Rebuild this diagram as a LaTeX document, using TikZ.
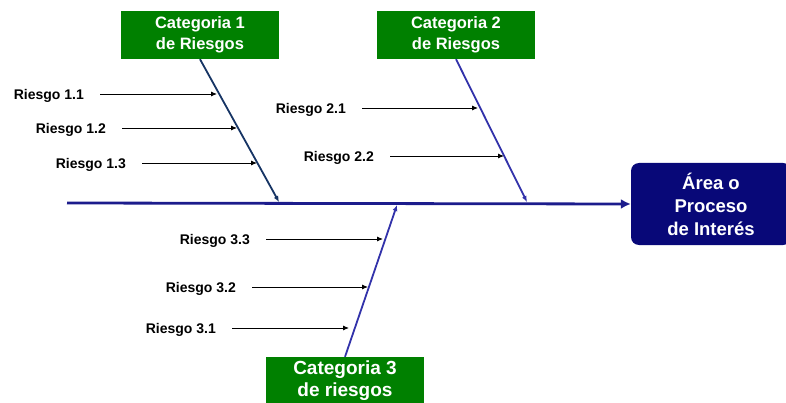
\documentclass[tikz,border=0pt]{standalone}
\usepackage{fontspec}
\setmainfont{Liberation Sans}
\usetikzlibrary{arrows.meta,calc}
\definecolor{catgreen}{RGB}{0,128,0}
\definecolor{areanavy}{RGB}{8,8,120}
\definecolor{spine}{RGB}{28,28,140}
\definecolor{boneA}{RGB}{22,52,100}
\definecolor{boneB}{RGB}{50,50,170}
\tikzset{
  catbox/.style={fill=catgreen, text=white, font=\bfseries\fontsize{16.5}{20.5}\selectfont, align=center, minimum width=158pt, minimum height=48pt, inner sep=0pt},
  areabox/.style={fill=areanavy, rounded corners=8pt, text=white, font=\bfseries\fontsize{18.5}{23}\selectfont, align=center, minimum width=160pt, minimum height=82pt, inner sep=0pt},
  risk/.style={font=\bfseries\fontsize{14}{16}\selectfont, anchor=east, inner xsep=16pt, inner ysep=0pt, text depth=0pt},
  riskarrow/.style={draw=black, line width=0.9pt, -{Latex[length=6pt,width=5pt]}},
  bone/.style={line width=1.8pt, -{Latex[length=6pt,width=5pt]}},
}
\begin{document}
\begin{tikzpicture}[x=1pt,y=-1pt]
\useasboundingbox (0,0) rectangle (786,403);
\clip (0,0) rectangle (786,403);
% boxes
\node[catbox] (c1) at (200,35) {Categoria 1\\de Riesgos};
\node[catbox] (c2) at (456,35) {Categoria 2\\de Riesgos};
\node[catbox, font=\bfseries\fontsize{19}{22}\selectfont] (c3) at (345,381) {Categoria 3\\de riesgos};
\node[areabox] (area) at (711,204) {Área o\\Proceso\\de Interés};
% spine
\coordinate (s0) at (67,203);
\draw[spine, line width=2.8pt, -{Latex[length=10pt,width=10pt]}] (s0) -- (area.west);
% bone endpoints on spine
\coordinate (e1) at (279,202);
\coordinate (e2) at (527,202);
\coordinate (e3) at (397,205);
\draw[bone, boneA] (c1.south) -- (e1);
\draw[bone, boneB] (c2.south) -- (e2);
\draw[bone, boneB] (c3.north) -- (e3);
% points on bones
\coordinate (p11) at (217,94);
\coordinate (p12) at (237,128);
\coordinate (p13) at (257,163);
\coordinate (p21) at (478,108);
\coordinate (p22) at (504,156);
\coordinate (p33) at (383,239);
\coordinate (p32) at (368,287);
\coordinate (p31) at (349,328);
% risk labels
\node[risk] (r11) at (100,94) {Riesgo 1.1};
\node[risk] (r12) at (122,128) {Riesgo 1.2};
\node[risk] (r13) at (142,163) {Riesgo 1.3};
\node[risk] (r21) at (362,108) {Riesgo 2.1};
\node[risk] (r22) at (390,156) {Riesgo 2.2};
\node[risk] (r33) at (266,239) {Riesgo 3.3};
\node[risk] (r32) at (252,287) {Riesgo 3.2};
\node[risk] (r31) at (232,328) {Riesgo 3.1};
\draw[riskarrow] (r11.east) -- (p11);
\draw[riskarrow] (r12.east) -- (p12);
\draw[riskarrow] (r13.east) -- (p13);
\draw[riskarrow] (r21.east) -- (p21);
\draw[riskarrow] (r22.east) -- (p22);
\draw[riskarrow] (r33.east) -- (p33);
\draw[riskarrow] (r32.east) -- (p32);
\draw[riskarrow] (r31.east) -- (p31);
\end{tikzpicture}
\end{document}
